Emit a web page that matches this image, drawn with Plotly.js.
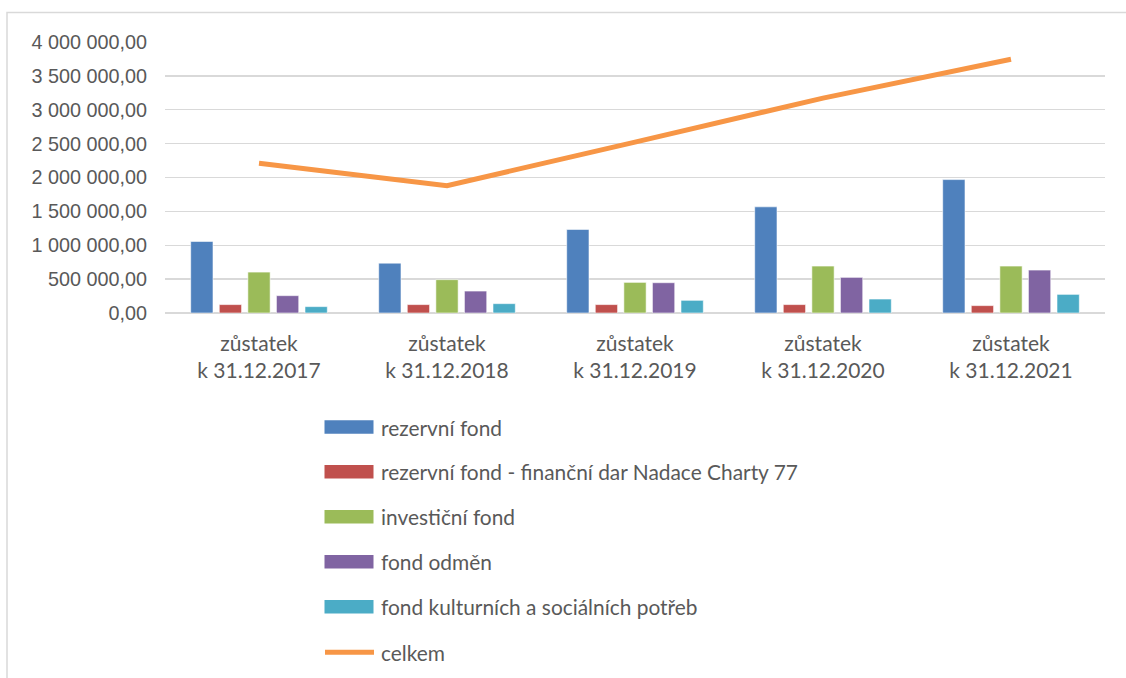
<!DOCTYPE html>
<html>
<head>
<meta charset="utf-8">
<script src="https://cdn.plot.ly/plotly-3.0.1.min.js"></script>
<style>
  html, body { margin: 0; padding: 0; background: #ffffff; }
  #chart { width: 1126px; height: 678px; }
</style>
</head>
<body>
<div id="chart"></div>
<script>
// ---- data ----
const categories = [
  "zůstatek<br>k 31.12.2017",
  "zůstatek<br>k 31.12.2018",
  "zůstatek<br>k 31.12.2019",
  "zůstatek<br>k 31.12.2020",
  "zůstatek<br>k 31.12.2021"
];
const seriesNames = [
  "rezervní fond",
  "rezervní fond - finanční dar Nadace Charty 77",
  "investiční fond",
  "fond odměn",
  "fond kulturních a sociálních potřeb",
  "celkem"
];
const rezervniFond   = [1056000,  736000, 1233000, 1567000, 1969000];
const darCharty77    = [ 124000,  124000,  124000,  124000,  109000];
const investicniFond = [ 604000,  492000,  452000,  692000,  692000];
const fondOdmen      = [ 256000,  324000,  447000,  526000,  633000];
const fondFKSP       = [  94000,  138000,  187000,  206000,  275000];
const celkem         = [2209000, 1879000, 2523000, 3171000, 3745000];
const yTickValues    = [0, 500000, 1000000, 1500000, 2000000, 2500000, 3000000, 3500000, 4000000];

// ---- styles ----
const colors = ["#4f81bd", "#c0504d", "#9bbb59", "#8064a2", "#4bacc6", "#f79646"];
const textColor = "#595959";
const gridColor = "#d9d9d9";

const barSeries = [rezervniFond, darCharty77, investicniFond, fondOdmen, fondFKSP];
const traces = barSeries.map((vals, i) => ({
  type: "bar",
  name: seriesNames[i],
  x: categories,
  y: vals,
  marker: { color: colors[i], line: { color: "rgba(255,255,255,0.7)", width: 0.8 } },
  showlegend: false
}));
traces.push({
  type: "scatter",
  mode: "lines",
  name: seriesNames[5],
  x: categories,
  y: celkem,
  line: { color: colors[5], width: 5 },
  showlegend: false
});

// plot area geometry (pixels)
const W = 1126, H = 678;
const L = 165, R = 21, T = 42, B = 365;
const plotW = W - L - R, plotH = H - T - B;
const px2x = p => (p - L) / plotW;
const px2y = p => (H - B - p) / plotH;

const shapes = [];
const annotations = [];

// outer chart frame
shapes.push({
  type: "rect", xref: "paper", yref: "paper",
  x0: px2x(7), x1: px2x(1135), y0: px2y(700), y1: px2y(12.5),
  line: { color: gridColor, width: 1.5 }, fillcolor: "rgba(0,0,0,0)", layer: "below"
});

// custom legend
const legendCenters = [427, 471.7, 516.7, 561.7, 606.7, 652.3];
for (let i = 0; i < seriesNames.length; i++) {
  const cy = legendCenters[i];
  if (i < 5) {
    shapes.push({
      type: "rect", xref: "paper", yref: "paper",
      x0: px2x(324.5), x1: px2x(373.5), y0: px2y(cy + 6.7), y1: px2y(cy - 6.7),
      fillcolor: colors[i], line: { width: 0 }
    });
  } else {
    shapes.push({
      type: "line", xref: "paper", yref: "paper",
      x0: px2x(325), x1: px2x(374), y0: px2y(cy), y1: px2y(cy),
      line: { color: colors[i], width: 5 }
    });
  }
  annotations.push({
    xref: "paper", yref: "paper",
    x: px2x(379), y: px2y(cy),
    xanchor: "left", yanchor: "middle",
    text: seriesNames[i], showarrow: false,
    font: { family: "Lato, 'Open Sans', sans-serif", size: 20.9, color: textColor }
  });
}

const layout = {
  width: W, height: H,
  margin: { l: L, r: R, t: T, b: B, pad: 0 },
  paper_bgcolor: "#ffffff",
  plot_bgcolor: "#ffffff",
  separators: ", ",
  barmode: "group",
  bargap: 0.24,
  bargroupgap: 0.22,
  showlegend: false,
  xaxis: {
    type: "category",
    showgrid: false,
    showline: false,
    zeroline: false,
    ticks: "",
    ticklabelstandoff: 16,
    tickfont: { family: "Lato, 'Open Sans', sans-serif", size: 21, color: textColor },
    fixedrange: true
  },
  yaxis: {
    range: [0, 4000000],
    tickvals: yTickValues,
    tickformat: ",.2f",
    showgrid: true,
    gridcolor: gridColor,
    gridwidth: 1.3,
    zeroline: true,
    zerolinecolor: gridColor,
    zerolinewidth: 1.5,
    showline: false,
    ticks: "",
    ticklabelstandoff: 17,
    tickfont: { family: "'Liberation Sans', Arial, sans-serif", size: 19.8, color: textColor },
    fixedrange: true
  },
  shapes: shapes,
  annotations: annotations
};

Plotly.newPlot("chart", traces, layout, { displayModeBar: false, staticPlot: true });
</script>
</body>
</html>
